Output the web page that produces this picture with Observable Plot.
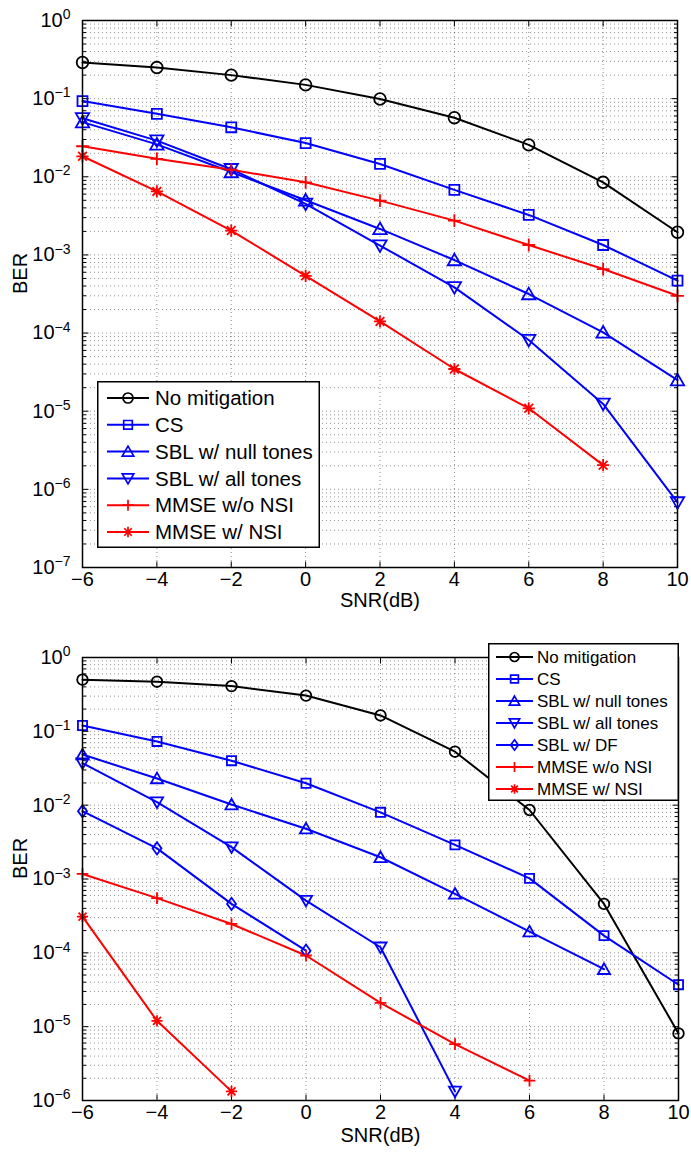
<!DOCTYPE html>
<html><head><meta charset="utf-8">
<script src="https://cdn.jsdelivr.net/npm/d3@7"></script>
<script src="https://cdn.jsdelivr.net/npm/@observablehq/plot@0.6"></script>
<style>
body{margin:0;background:#fff;}
#wrap{position:relative;width:691px;height:1153px;background:#fff;font-family:"Liberation Sans",Arial,Helvetica,sans-serif;}
#wrap > svg{position:absolute;left:0;}
</style></head><body><div id="wrap"></div>
<script>
// ---------- data ----------
const snr = [-6, -4, -2, 0, 2, 4, 6, 8, 10];
const xTickLabels = snr;

const names = ["No mitigation", "CS", "SBL w/ null tones", "SBL w/ all tones", "SBL w/ DF", "MMSE w/o NSI", "MMSE w/ NSI"];
const colors = ["#000000", "#0000ff", "#0000ff", "#0000ff", "#0000ff", "#ff0000", "#ff0000"];
const markers = ["circle", "square", "triUp", "triDown", "diamond", "plus", "asterisk"];

// top figure (BER vs SNR)
const top_noMitigation = [0.29, 0.25, 0.20, 0.15, 0.099, 0.057, 0.0256, 0.0085, 0.00195];
const top_cs = [0.093, 0.064, 0.043, 0.027, 0.0146, 0.0068, 0.00325, 0.00134, 0.00047];
const top_sblNull = [0.050, 0.026, 0.0115, 0.0050, 0.00215, 0.00086, 0.000316, 0.000102, 0.000025];
const top_sblAll = [0.056, 0.029, 0.0125, 0.0045, 0.00132, 0.000385, 0.0000815, 0.0000124, 0.00000068];
const top_mmseNoNSI = [0.0246, 0.017, 0.0123, 0.0085, 0.00495, 0.00275, 0.00134, 0.00066, 0.0003];
const top_mmseNSI = [0.0183, 0.0065, 0.00205, 0.00054, 0.000141, 0.0000347, 0.0000109, 0.00000204];

// bottom figure
const bot_noMitigation = [0.50, 0.47, 0.41, 0.305, 0.164, 0.053, 0.0086, 0.00046, 0.0000081];
const bot_cs = [0.12, 0.073, 0.040, 0.0198, 0.008, 0.0029, 0.00102, 0.000171, 0.000037];
const bot_sblNull = [0.0485, 0.023, 0.0102, 0.0048, 0.00197, 0.00063, 0.000194, 0.00006];
const bot_sblAll = [0.037, 0.011, 0.0027, 0.00051, 0.000119, 0.00000133];
const bot_sblDF = [0.0083, 0.0026, 0.00046, 0.000107];
const bot_mmseNoNSI = [0.00117, 0.00055, 0.000246, 0.000092, 0.000021, 0.0000058, 0.00000186];
const bot_mmseNSI = [0.00031, 0.000012, 0.00000133];

const topSeries = [
  [0, top_noMitigation], [1, top_cs], [2, top_sblNull], [3, top_sblAll], [5, top_mmseNoNSI], [6, top_mmseNSI]
];
const botSeries = [
  [0, bot_noMitigation], [1, bot_cs], [2, bot_sblNull], [3, bot_sblAll], [4, bot_sblDF], [5, bot_mmseNoNSI], [6, bot_mmseNSI]
];

// ---------- symbols ----------
function makeSym(kind) {
  return {draw(ctx, size) {
    const r = Math.sqrt(size / Math.PI);
    switch (kind) {
      case "circle": ctx.moveTo(r, 0); ctx.arc(0, 0, r, 0, 2 * Math.PI); ctx.closePath(); break;
      case "square": { const s = 0.86 * r; ctx.moveTo(-s, -s); ctx.lineTo(s, -s); ctx.lineTo(s, s); ctx.lineTo(-s, s); ctx.closePath(); break; }
      case "triUp": { const w = 1.15 * r; ctx.moveTo(0, -1.1 * r); ctx.lineTo(w, 0.9 * r); ctx.lineTo(-w, 0.9 * r); ctx.closePath(); break; }
      case "triDown": { const w = 1.15 * r; ctx.moveTo(0, 1.1 * r); ctx.lineTo(w, -0.9 * r); ctx.lineTo(-w, -0.9 * r); ctx.closePath(); break; }
      case "diamond": { const w = 0.85 * r, h = 1.15 * r; ctx.moveTo(0, -h); ctx.lineTo(w, 0); ctx.lineTo(0, h); ctx.lineTo(-w, 0); ctx.closePath(); break; }
      case "plus": { const a = 1.1 * r; ctx.moveTo(-a, 0); ctx.lineTo(a, 0); ctx.moveTo(0, -a); ctx.lineTo(0, a); break; }
      case "asterisk": { const a = 1.05 * r, b = 0.75 * r; ctx.moveTo(-a, 0); ctx.lineTo(a, 0); ctx.moveTo(0, -a); ctx.lineTo(0, a); ctx.moveTo(-b, -b); ctx.lineTo(b, b); ctx.moveTo(-b, b); ctx.lineTo(b, -b); break; }
    }
  }};
}
function tickSym(dx, dy) {
  return {draw(ctx) { ctx.moveTo(0, 0); ctx.lineTo(dx, dy); }};
}

// ---------- chart builder ----------
function buildChart({yMinExp, series, height, marginTop, marginBottom, marginRight, r, xLabelDy}) {
  const xDomain = [snr[0], snr[snr.length - 1]];
  const yDomain = [+("1e" + yMinExp), 1];
  const decades = d3.range(yMinExp, 1).map(e => +("1e" + e));
  const minors = d3.range(yMinExp, 0).flatMap(e => d3.range(2, 10).map(k => +(k + "e" + e)));
  const yGrid = decades.slice(1, -1).concat(minors);
  const xGrid = snr.slice(1, -1);

  const marks = [
    Plot.ruleX(xGrid, {x: d => d, stroke: "#000", strokeOpacity: 0.55, strokeWidth: 0.8, strokeDasharray: "1,3"}),
    Plot.ruleY(yGrid, {y: d => d, stroke: "#000", strokeOpacity: 0.55, strokeWidth: 0.8, strokeDasharray: "1,3"})
  ];
  // tick marks, inward on all four sides
  const minorTickLen = 3.5, majorTickLen = 6;
  marks.push(
    Plot.dot(decades, {x: () => xDomain[0], y: d => d, symbol: tickSym(majorTickLen, 0), stroke: "#000", strokeWidth: 1}),
    Plot.dot(minors, {x: () => xDomain[0], y: d => d, symbol: tickSym(minorTickLen, 0), stroke: "#000", strokeWidth: 1}),
    Plot.dot(decades, {x: () => xDomain[1], y: d => d, symbol: tickSym(-majorTickLen, 0), stroke: "#000", strokeWidth: 1}),
    Plot.dot(minors, {x: () => xDomain[1], y: d => d, symbol: tickSym(-minorTickLen, 0), stroke: "#000", strokeWidth: 1}),
    Plot.dot(xTickLabels, {x: d => d, y: () => yDomain[0], symbol: tickSym(0, -majorTickLen), stroke: "#000", strokeWidth: 1}),
    Plot.dot(xTickLabels, {x: d => d, y: () => yDomain[1], symbol: tickSym(0, majorTickLen), stroke: "#000", strokeWidth: 1})
  );
  for (const [idx, values] of series) {
    const rows = values.map((v, i) => ({x: snr[i], y: v}));
    marks.push(Plot.line(rows, {x: "x", y: "y", stroke: colors[idx], strokeWidth: 2}));
  }
  for (const [idx, values] of series) {
    const rows = values.map((v, i) => ({x: snr[i], y: v}));
    marks.push(Plot.dot(rows, {x: "x", y: "y", r, symbol: makeSym(markers[idx]), stroke: colors[idx], fill: "none", strokeWidth: 1.8}));
  }
  marks.push(
    Plot.frame({stroke: "#000", strokeWidth: 1.5}),
    Plot.text(["SNR(dB)"], {text: d => d, frameAnchor: "bottom", dy: xLabelDy, fontSize: 20, fill: "#000"}),
    Plot.text(["BER"], {text: d => d, frameAnchor: "left", dx: -62, rotate: -90, fontSize: 20, fill: "#000"})
  );

  const svg = Plot.plot({
    width: 691, height,
    marginLeft: 82, marginRight, marginTop, marginBottom,
    style: {fontFamily: '"Liberation Sans", Arial, Helvetica, sans-serif', fontSize: "20px", background: "#fff", color: "#000", overflow: "visible"},
    x: {domain: xDomain, ticks: xTickLabels, tickSize: 0, tickPadding: 4, label: null,
        tickFormat: d => d < 0 ? "\u2212" + (-d) : String(d)},
    y: {type: "log", domain: yDomain, ticks: decades, tickSize: 0, tickPadding: 12, label: null,
        tickFormat: d => "10^" + Math.round(Math.log10(d))},
    marks
  });
  // tick label sizing and superscript exponents
  d3.select(svg).selectAll("text").each(function() {
    const t = this.textContent;
    const sel = d3.select(this);
    if (/^\u2212?\d+$/.test(t)) {
      sel.style("font-size", "20px");
      return;
    }
    const m = /^10\^(-?\d+)$/.exec(t);
    if (!m) return;
    sel.style("font-size", "20px");
    sel.text(null);
    sel.append("tspan").text("10");
    sel.append("tspan").attr("dy", "-0.55em").style("font-size", "14px").text(m[1].replace("-", "\u2212"));
  });
  return svg;
}

// ---------- legend ----------
function addLegend(wrap, o) {
  const svg = d3.select(wrap).append("svg")
    .style("position", "absolute").style("left", o.left + "px").style("top", o.top + "px")
    .attr("width", o.width).attr("height", o.height)
    .style("font-family", '"Liberation Sans", Arial, Helvetica, sans-serif');
  svg.append("rect").attr("x", 0.75).attr("y", 0.75).attr("width", o.width - 1.5).attr("height", o.height - 1.5)
    .attr("fill", "#fff").attr("stroke", "#000").attr("stroke-width", 1.5);
  o.items.forEach((idx, i) => {
    const y = o.firstY + i * o.rowH;
    svg.append("line").attr("x1", o.lineX1).attr("x2", o.lineX2).attr("y1", y).attr("y2", y)
      .attr("stroke", colors[idx]).attr("stroke-width", 2);
    svg.append("path").attr("d", d3.symbol(makeSym(markers[idx]), o.r * o.r * Math.PI)())
      .attr("transform", `translate(${(o.lineX1 + o.lineX2) / 2},${y})`)
      .attr("fill", "none").attr("stroke", colors[idx]).attr("stroke-width", 1.7);
    svg.append("text").attr("x", o.textX).attr("y", y).attr("dy", "0.35em")
      .style("font-size", o.fontSize + "px").attr("fill", "#000").text(names[idx]);
  });
}

const wrap = document.getElementById("wrap");
const topSvg = buildChart({yMinExp: -7, series: topSeries, height: 620, marginTop: 20, marginBottom: 53, marginRight: 14, r: 5.8, xLabelDy: 39});
topSvg.style.top = "0px";
wrap.appendChild(topSvg);
const botSvg = buildChart({yMinExp: -6, series: botSeries, height: 533, marginTop: 37, marginBottom: 53, marginRight: 13, r: 5.3, xLabelDy: 41});
botSvg.style.top = "620px";
wrap.appendChild(botSvg);

addLegend(wrap, {left: 97, top: 381, width: 223, height: 167, items: [0, 1, 2, 3, 5, 6],
  firstY: 17, rowH: 26.8, lineX1: 10, lineX2: 52, textX: 58, fontSize: 20.5, r: 5});
addLegend(wrap, {left: 488, top: 643, width: 191, height: 158, items: [0, 1, 2, 3, 4, 5, 6],
  firstY: 14, rowH: 22, lineX1: 8, lineX2: 45, textX: 49, fontSize: 17, r: 4.5});
</script>
</body></html>
